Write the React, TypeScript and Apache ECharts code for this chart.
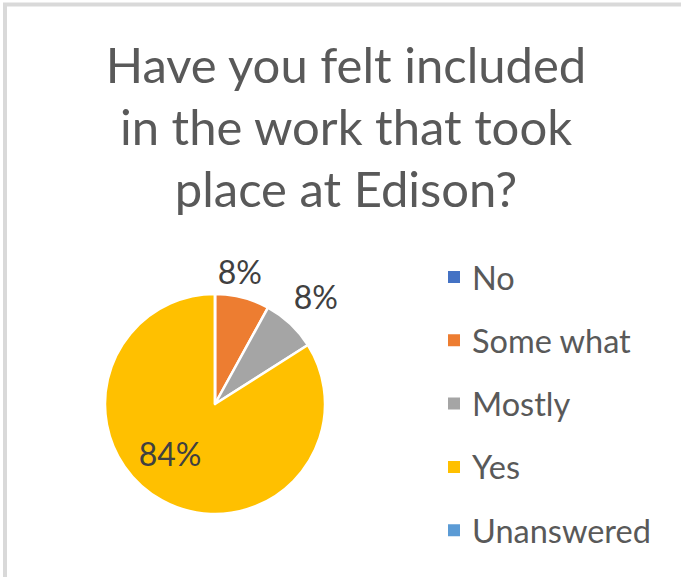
import React, { useEffect, useRef } from "react";
import * as echarts from "echarts";

const titleLines = ["Have you felt included", "in the work that took", "place at Edison?"];
const categories = ["No", "Some what", "Mostly", "Yes", "Unanswered"];
const values = [0, 2, 2, 21, 0];
const colors = ["#4472C4", "#ED7D31", "#A5A5A5", "#FFC000", "#5B9BD5"];
// label placement (style): distance as fraction of radius, angle shift in degrees
const labelDist = [1, 1.23, 1.34, 0.61, 1];
const labelAngleShift = [0, -3.8, 0, 13.2, 0];

const FONT = "Lato, 'Open Sans', sans-serif";
const CX = 215;
const CY = 404;
const R = 110;

export default function App() {
  const ref = useRef<HTMLDivElement>(null);
  useEffect(() => {
    if (!ref.current) return;
    const chart = echarts.init(ref.current, undefined, { renderer: "svg" });
    const total = values.reduce((a, b) => a + b, 0);
    const cum: number[] = [];
    let acc = 0;
    values.forEach((v) => {
      cum.push(acc + v / 2);
      acc += v;
    });
    chart.setOption({
      animation: false,
      backgroundColor: "#ffffff",
      title: {
        text: titleLines.join("\n"),
        left: 346,
        top: 33,
        padding: 0,
        textAlign: "center",
        textStyle: {
          fontFamily: FONT,
          fontSize: 49,
          fontWeight: "normal",
          color: "#595959",
          lineHeight: 62,
        },
      },
      legend: {
        orient: "vertical",
        left: 446,
        top: 257,
        padding: 0,
        icon: "rect",
        itemWidth: 14,
        itemHeight: 14,
        itemGap: 23.3,
        data: categories,
        textStyle: {
          fontFamily: FONT,
          fontSize: 32.5,
          color: "#595959",
          lineHeight: 40,
          padding: [0, 0, 0, 6],
        },
      },
      graphic: [
        {
          type: "rect",
          shape: { x: 5, y: 4.5, width: 1000, height: 1000 },
          style: { fill: "none", stroke: "#d9d9d9", lineWidth: 4 },
          silent: true,
        },
      ],
      series: [
        {
          type: "pie",
          center: [CX, CY],
          radius: [0, R],
          startAngle: 90,
          clockwise: true,
          percentPrecision: 0,
          itemStyle: { borderColor: "#ffffff", borderWidth: 2.5 },
          label: {
            show: true,
            position: "inside",
            formatter: "{d}%",
            fontFamily: FONT,
            fontSize: 32,
            color: "#404040",
          },
          labelLine: { show: false },
          labelLayout: (params: any) => {
            const i = params.dataIndex;
            const ang = ((cum[i] / total) * 360 + labelAngleShift[i]) * (Math.PI / 180);
            const d = labelDist[i] * R;
            return {
              x: CX + d * Math.sin(ang),
              y: CY - d * Math.cos(ang),
              align: "center",
              verticalAlign: "middle",
            };
          },
          data: categories.map((name, i) => ({
            name,
            value: values[i],
            itemStyle: { color: colors[i] },
            label: { show: values[i] > 0 },
          })),
        },
      ],
    });
    return () => chart.dispose();
  }, []);
  return (
    <div
      ref={ref}
      style={{ position: "fixed", left: 0, top: 0, width: 681, height: 577 }}
    />
  );
}
